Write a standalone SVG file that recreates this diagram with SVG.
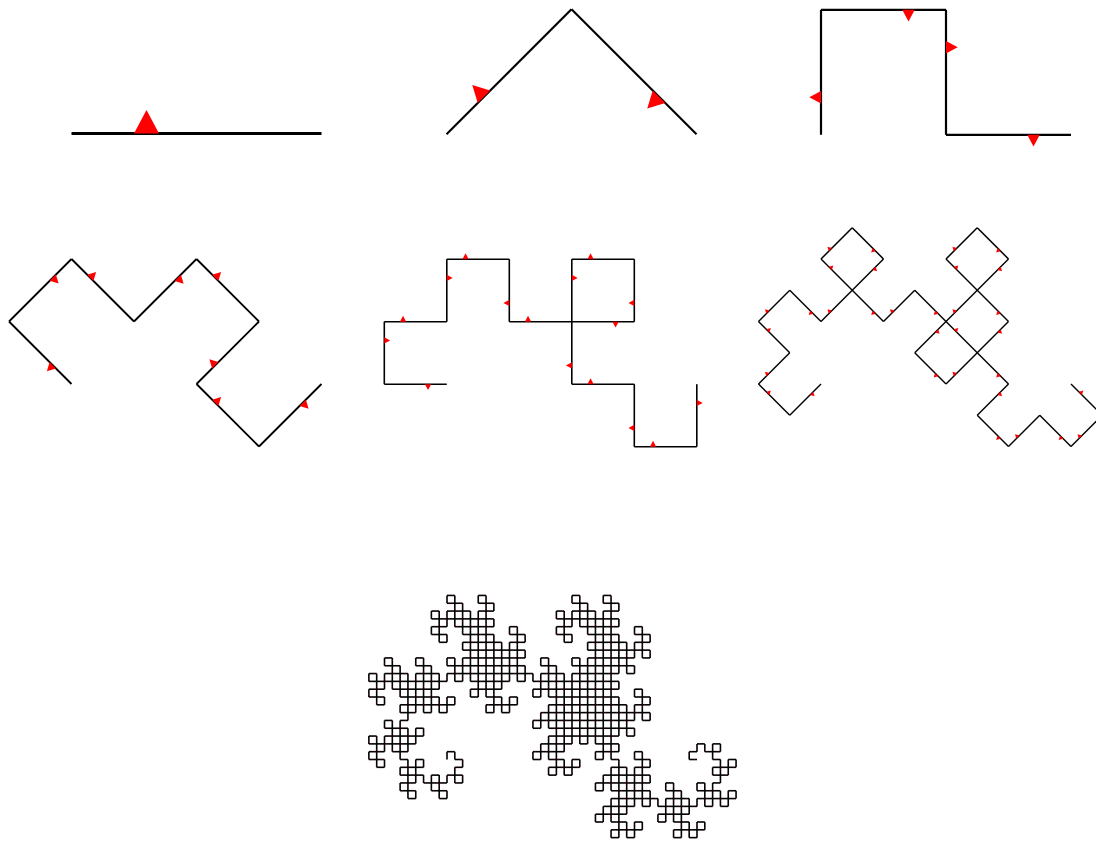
<svg xmlns="http://www.w3.org/2000/svg" width="1096" height="841" viewBox="0 0 1096 841">
  <style>
    .ln { stroke: #000; fill: none; stroke-linecap: butt; stroke-linejoin: miter; }
    .ar { stroke: none; fill: #ff0000; }
  </style>
  <defs>
    <g id="d0">
      <line x1="0" y1="0" x2="250" y2="0" vector-effect="non-scaling-stroke"/>
      <polygon points="62.5,0 87.5,0 75,-23.5" stroke="none"/>
    </g>
    <g id="d1"><use href="#d0" transform="rotate(-45) scale(0.70710678)"/><use href="#d0" transform="translate(250,0) rotate(-135) scale(0.70710678)"/></g>
    <g id="d2"><use href="#d1" transform="rotate(-45) scale(0.70710678)"/><use href="#d1" transform="translate(250,0) rotate(-135) scale(0.70710678)"/></g>
    <g id="d3"><use href="#d2" transform="rotate(-45) scale(0.70710678)"/><use href="#d2" transform="translate(250,0) rotate(-135) scale(0.70710678)"/></g>
    <g id="d4"><use href="#d3" transform="rotate(-45) scale(0.70710678)"/><use href="#d3" transform="translate(250,0) rotate(-135) scale(0.70710678)"/></g>
    <g id="d5"><use href="#d4" transform="rotate(-45) scale(0.70710678)"/><use href="#d4" transform="translate(250,0) rotate(-135) scale(0.70710678)"/></g>
    <g id="d6"><use href="#d5" transform="rotate(-45) scale(0.70710678)"/><use href="#d5" transform="translate(250,0) rotate(-135) scale(0.70710678)"/></g>
    <g id="d7"><use href="#d6" transform="rotate(-45) scale(0.70710678)"/><use href="#d6" transform="translate(250,0) rotate(-135) scale(0.70710678)"/></g>
    <g id="d8"><use href="#d7" transform="rotate(-45) scale(0.70710678)"/><use href="#d7" transform="translate(250,0) rotate(-135) scale(0.70710678)"/></g>
    <g id="d9"><use href="#d8" transform="rotate(-45) scale(0.70710678)"/><use href="#d8" transform="translate(250,0) rotate(-135) scale(0.70710678)"/></g>
    <g id="d10"><use href="#d9" transform="rotate(-45) scale(0.70710678)"/><use href="#d9" transform="translate(250,0) rotate(-135) scale(0.70710678)"/></g>
  </defs>
  <rect width="1096" height="841" fill="#fff"/>
  <g id="iter0" transform="translate(71.5,133.5)">
    <use href="#d0" class="ln" stroke-width="3"/>
    <use href="#d0" class="ar"/>
  </g>
  <g id="iter1" transform="translate(446.5,134.3)">
    <use href="#d1" class="ln" stroke-width="2.2" stroke="#333"/>
    <use href="#d1" class="ar"/>
  </g>
  <g id="iter2" transform="translate(821,134.8)">
    <use href="#d2" class="ln" stroke-width="2.2" stroke="#333"/>
    <use href="#d2" class="ar"/>
  </g>
  <g id="iter3" transform="translate(71.5,384)">
    <use href="#d3" class="ln" stroke-width="1.8"/>
    <use href="#d3" class="ar"/>
  </g>
  <g id="iter4" transform="translate(446.8,384.2)">
    <use href="#d4" class="ln" stroke-width="1.6"/>
    <use href="#d4" class="ar"/>
  </g>
  <g id="iter5" transform="translate(821,384)">
    <use href="#d5" class="ln" stroke-width="1.5"/>
    <use href="#d5" class="ar"/>
  </g>
  <g id="iter10" transform="translate(447,759.5)">
    <use href="#d10" class="ln" stroke-width="1.6"/>
    <use href="#d10" class="ar"/>
  </g>
</svg>
